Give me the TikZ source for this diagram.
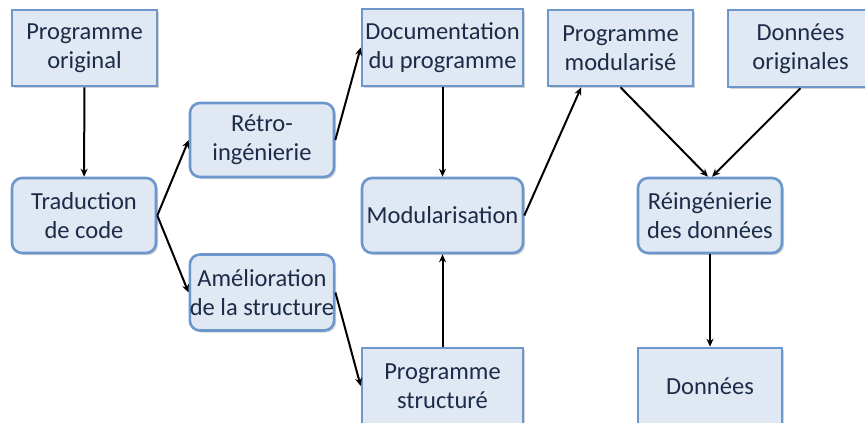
\documentclass[tikz,border=0pt]{standalone}
\usepackage{fontspec}
\setmainfont{Carlito}
\usetikzlibrary{arrows.meta,shadows}
\definecolor{boxfill}{HTML}{E0E8F3}
\definecolor{boxline}{HTML}{6C97CC}
\definecolor{boxtext}{HTML}{1C2B48}
\begin{document}
\begin{tikzpicture}[x=1pt, y=-1pt,
        block/.style={draw=boxline, fill=boxfill, line width=2.6pt, text=boxtext,
            align=center, inner sep=0pt, font=\fontsize{24.5}{29}\selectfont,
            drop shadow={shadow xshift=2pt, shadow yshift=-2pt, opacity=0.35}},
        roundblock/.style={block, rounded corners=10pt},
        link/.style={-{Stealth[length=8pt,width=7pt]}, line width=2pt}]
        \useasboundingbox (0, 0) rectangle (865, 423);
        \clip (0, 0) rectangle (865, 423);

        \node[block, minimum width=145, minimum height=76] (porig) at (84.5, 48) {Programme\\original};
        \node[roundblock, minimum width=144, minimum height=75] (trad) at (84, 215.5) {Traduction\\de code};
        \node[roundblock, minimum width=144, minimum height=74] (retro) at (262, 140) {Rétro-\\ingénierie};
        \node[roundblock, minimum width=144, minimum height=76] (amel) at (262, 292.5) {Amélioration\\de la structure};
        \node[block, minimum width=161, minimum height=77] (doc) at (442.5, 47.5) {Documentation\\du programme};
        \node[roundblock, minimum width=161, minimum height=75] (modul) at (442.5, 215.5) {Modularisation};
        \node[block, minimum width=161, minimum height=76] (pstruct) at (442.5, 386) {Programme\\structuré};
        \node[block, minimum width=145, minimum height=76] (pmod) at (620.5, 48) {Programme\\modularisé};
        \node[block, minimum width=145, minimum height=77] (dorig) at (800.5, 48.5) {Données\\originales};
        \node[roundblock, minimum width=144, minimum height=75] (reing) at (710, 215.5) {Réingénierie\\des données};
        \node[block, minimum width=144, minimum height=76] (donnees) at (710, 386) {Données};

        \draw[link] (porig) -- (trad);
        \draw[link] (trad.east) -- (retro.west);
        \draw[link] (trad.east) -- (amel.west);
        \draw[link] (retro.east) -- (doc.west);
        \draw[link] (amel.east) -- (pstruct.west);
        \draw[link] (doc) -- (modul);
        \draw[link] (pstruct) -- (modul);
        \draw[link] (modul.east) -- (pmod.225);
        \draw[link] (pmod.south) -- ([xshift=-2]reing.north);
        \draw[link] (dorig.south) -- ([xshift=2]reing.north);
        \draw[link] (reing) -- (donnees);
    \end{tikzpicture}
\end{document}
